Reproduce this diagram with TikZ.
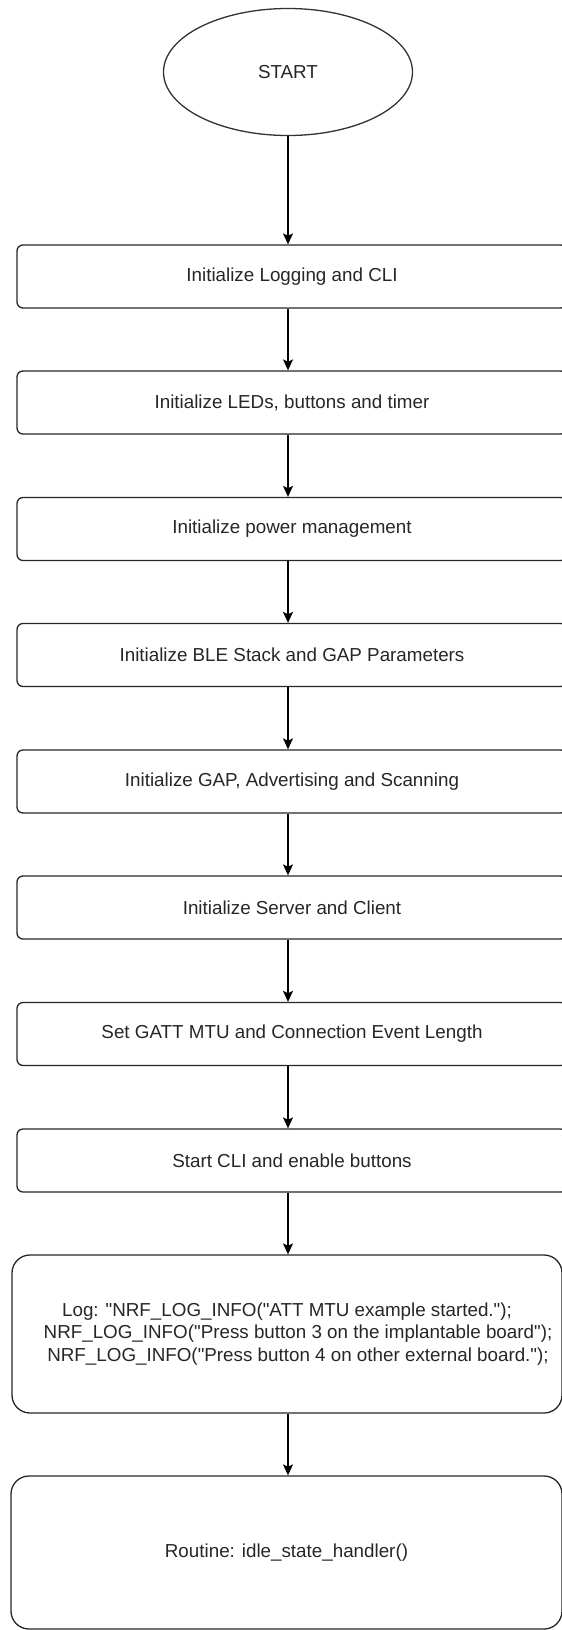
\documentclass[tikz,border=0pt]{standalone}
\usepackage{fontspec}
\setmainfont{Liberation Sans}[Ligatures=TeXOff]
\usetikzlibrary{arrows.meta,shapes.geometric}
\begin{document}
\begin{tikzpicture}[x=1pt,y=-1pt,
  every node/.style={font=\fontsize{18.8}{22.5}\selectfont, text=black!85},
  stepbox/.style={draw=black!85, line width=1.3pt, rounded corners=6pt, minimum width=550pt, minimum height=63pt, inner sep=0pt},
  bigbox/.style={draw=black!85, line width=1.3pt, rounded corners=18pt, inner sep=0pt, align=center},
  startshape/.style={draw=black!80, line width=1.3pt, ellipse, minimum width=249pt, minimum height=127pt, inner sep=0pt},
  flow/.style={draw=black, line width=1.3pt, -{Stealth[length=11pt,width=10pt,inset=2.5pt]}}
]
\useasboundingbox (0,0) rectangle (562,1630);
\clip (0,0) rectangle (562,1630);

\node[startshape] (start) at (288,72) {START};

\node[stepbox] (b1) at (292,276.5) {Initialize Logging and CLI};
\node[stepbox] (b2) at (292,402.5) {Initialize LEDs, buttons and timer};
\node[stepbox] (b3) at (292,529) {Initialize power management};
\node[stepbox] (b4) at (292,655) {Initialize BLE Stack and GAP Parameters};
\node[stepbox] (b5) at (292,781.5) {Initialize GAP, Advertising and Scanning};
\node[stepbox] (b6) at (292,907.5) {Initialize Server and Client};
\node[stepbox] (b7) at (292,1034) {Set GATT MTU and Connection Event Length};
\node[stepbox] (b8) at (292,1160.5) {Start CLI and enable buttons};

\node[bigbox, minimum width=550pt, minimum height=158pt] (logbox) at (287,1334)
  {Log: "NRF\_LOG\_INFO("ATT MTU example started.");\\
   \hspace*{22pt}NRF\_LOG\_INFO("Press button 3 on the implantable board");\\
   \hspace*{22pt}NRF\_LOG\_INFO("Press button 4 on other external board.");};

\node[bigbox, minimum width=551pt, minimum height=153pt] (routine) at (286.5,1552.5)
  {Routine: idle\_state\_handler()};

\draw[flow] (start.south) -- (start.south |- b1.north);
\draw[flow] (b1.south -| start.south) -- (start.south |- b2.north);
\draw[flow] (b2.south -| start.south) -- (start.south |- b3.north);
\draw[flow] (b3.south -| start.south) -- (start.south |- b4.north);
\draw[flow] (b4.south -| start.south) -- (start.south |- b5.north);
\draw[flow] (b5.south -| start.south) -- (start.south |- b6.north);
\draw[flow] (b6.south -| start.south) -- (start.south |- b7.north);
\draw[flow] (b7.south -| start.south) -- (start.south |- b8.north);
\draw[flow] (b8.south -| start.south) -- (start.south |- logbox.north);
\draw[flow] (logbox.south -| start.south) -- (start.south |- routine.north);
\end{tikzpicture}
\end{document}
